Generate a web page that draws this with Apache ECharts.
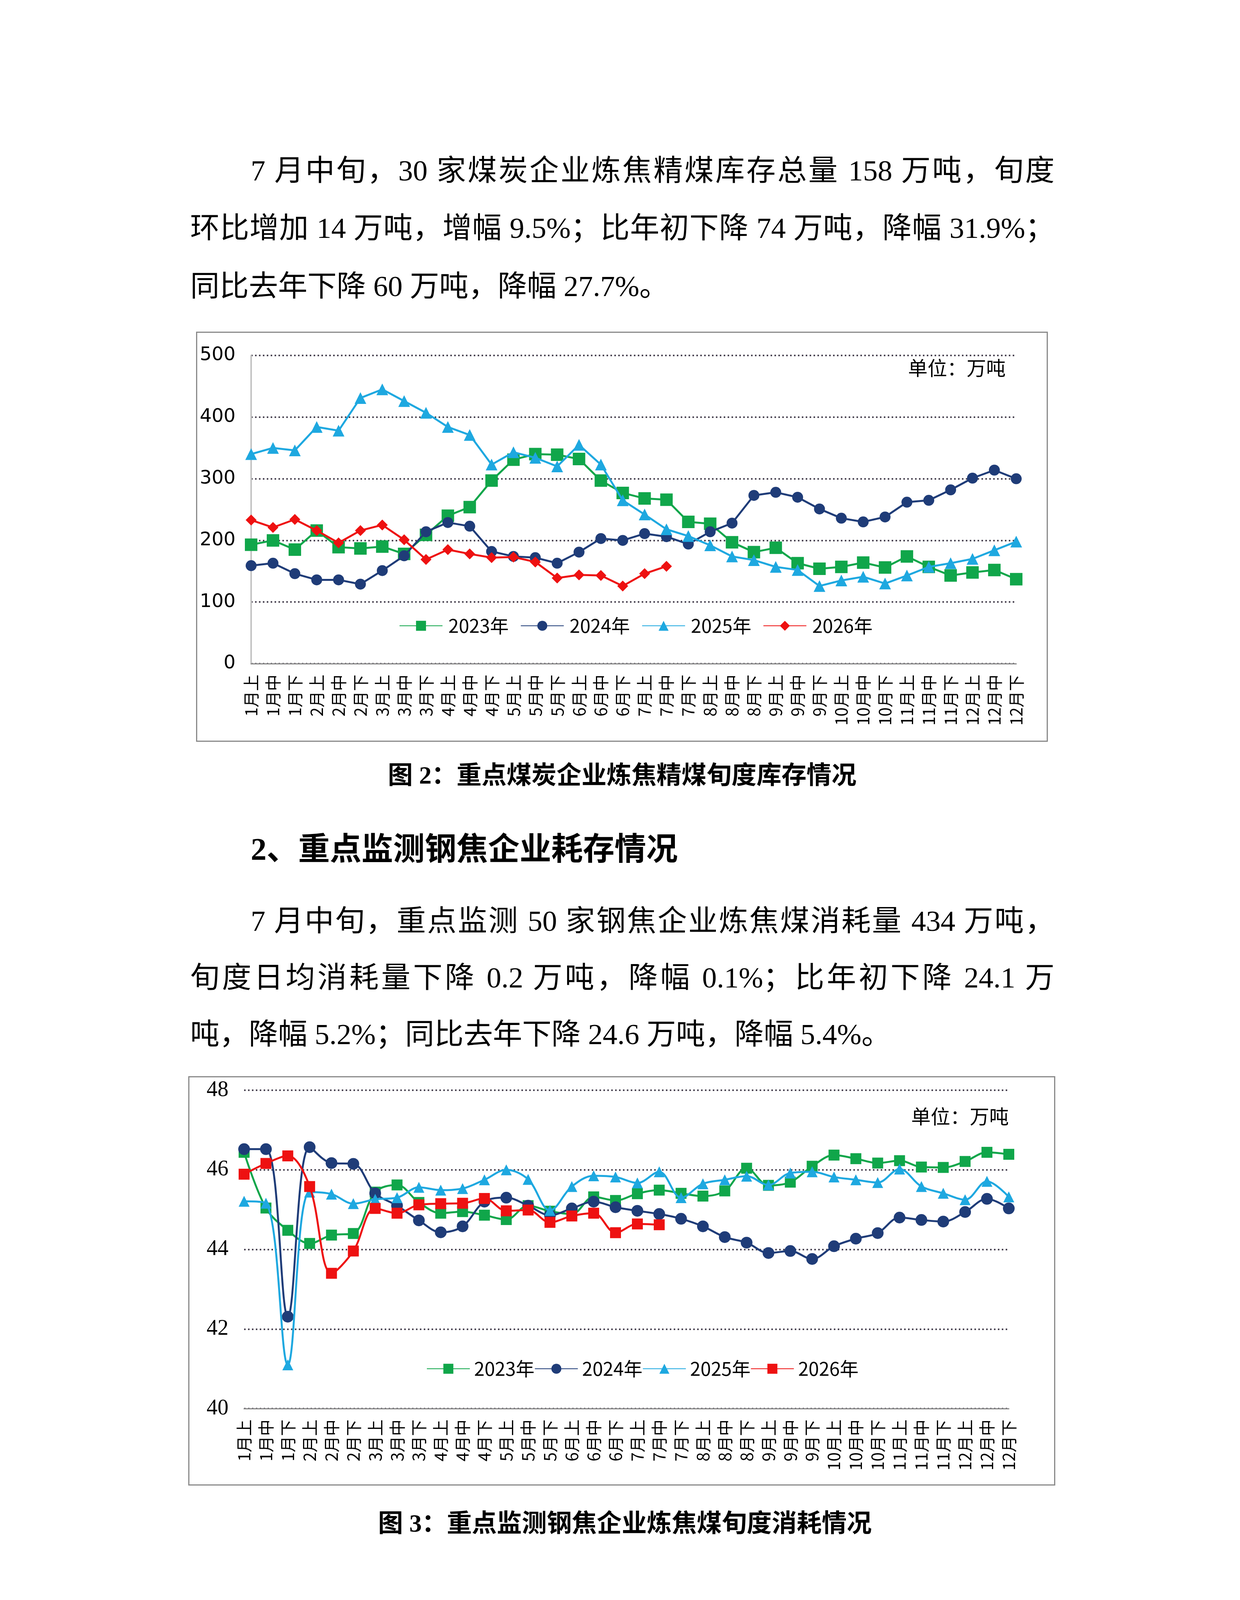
<!DOCTYPE html>
<html>
<head>
<meta charset="utf-8">
<script src="https://cdn.jsdelivr.net/npm/echarts/dist/echarts.min.js"></script>
<style>
  html, body { margin: 0; padding: 0; background: #fff; }
  #page { position: relative; width: 3175px; height: 4490px; background: #fff; overflow: hidden; }
  .ln { position: absolute; height: 100px; line-height: 100px; font-size: 75px; color: #000; white-space: nowrap;
        font-family: "Liberation Serif", "Noto Sans CJK SC", serif; }
  .full { text-align: justify; text-align-last: justify; white-space: normal; }
  .cap { position: absolute; height: 80px; line-height: 80px; font-size: 64px; font-weight: bold; color: #000;
         font-family: "Liberation Serif", "Noto Sans CJK SC", serif; white-space: nowrap; transform: translateX(-50%); }
  .head { font-weight: bold; font-size: 81px; }
  .box { position: absolute; border: 3px solid #8a8a8a; background: #fff; }
  .box > div { width: 100%; height: 100%; }
</style>
</head>
<body>
<div id="page">
  <div class="ln full" style="left:642px; top:387px; width:2058px;">7 月中旬，30 家煤炭企业炼焦精煤库存总量 158 万吨，旬度</div>
  <div class="ln full" style="left:487px; top:534px; width:2213px;">环比增加 14 万吨，增幅 9.5%；比年初下降 74 万吨，降幅 31.9%；</div>
  <div class="ln" style="left:487px; top:683px;">同比去年下降 60 万吨，降幅 27.7%。</div>

  <div class="box" style="left:502px; top:849px; width:2175px; height:1044px;"><div id="chart1"></div></div>
  <div class="cap" style="left:1593px; top:1945px;">图 2：重点煤炭企业炼焦精煤旬度库存情况</div>

  <div class="ln head" style="left:642px; top:2124px;">2、重点监测钢焦企业耗存情况</div>
  <div class="ln full" style="left:642px; top:2308px; width:2058px;">7 月中旬，重点监测 50 家钢焦企业炼焦煤消耗量 434 万吨，</div>
  <div class="ln full" style="left:487px; top:2453px; width:2213px;">旬度日均消耗量下降 0.2 万吨，降幅 0.1%；比年初下降 24.1 万</div>
  <div class="ln" style="left:487px; top:2598px;">吨，降幅 5.2%；同比去年下降 24.6 万吨，降幅 5.4%。</div>

  <div class="box" style="left:482px; top:2755px; width:2214px; height:1042px;"><div id="chart2"></div></div>
  <div class="cap" style="left:1600px; top:3860px;">图 3：重点监测钢焦企业炼焦煤旬度消耗情况</div>
</div>
<script>
// 旬度分类
var categories = ['1月上','1月中','1月下','2月上','2月中','2月下','3月上','3月中','3月下',
  '4月上','4月中','4月下','5月上','5月中','5月下','6月上','6月中','6月下',
  '7月上','7月中','7月下','8月上','8月中','8月下','9月上','9月中','9月下',
  '10月上','10月中','10月下','11月上','11月中','11月下','12月上','12月中','12月下'];
var years = ['2023年', '2024年', '2025年', '2026年'];
var colors = ['#10a64a', '#1f3c78', '#1ea8e0', '#ee1111'];

// 图2 炼焦精煤库存（万吨）
var stock2023 = [193,200,185,216,189,187,190,178,209,240,254,297,331,340,339,332,297,277,
  268,266,230,227,197,181,188,163,154,157,164,156,174,157,143,148,152,137];
var stock2024 = [159,163,146,136,136,129,151,175,214,229,223,182,174,172,163,181,203,200,
  211,206,194,214,228,273,278,270,251,236,230,238,262,265,282,301,314,300];
var stock2025 = [340,350,346,384,378,431,445,426,407,384,371,323,343,334,320,355,323,265,
  242,218,207,192,174,168,157,152,126,135,141,130,143,157,163,170,184,198];
var stock2026 = [233,221,234,216,196,216,225,201,169,185,178,172,173,165,139,144,143,126,
  146,158];
var stockTicks = { min: 0, max: 500, interval: 100 };

// 图3 炼焦煤消耗（万吨）
var use2023 = [46.44,45.04,44.48,44.15,44.36,44.40,45.44,45.62,45.18,44.91,44.95,44.86,
  44.75,45.10,44.96,44.89,45.32,45.23,45.40,45.49,45.41,45.34,45.47,46.04,45.61,45.69,
  46.09,46.37,46.28,46.17,46.23,46.07,46.06,46.21,46.44,46.39];
var use2024 = [46.52,46.52,42.31,46.57,46.17,46.15,45.41,45.10,44.73,44.43,44.58,45.20,
  45.30,45.10,44.86,45.03,45.20,45.06,44.97,44.89,44.77,44.58,44.31,44.17,43.91,43.96,
  43.76,44.08,44.27,44.41,44.80,44.74,44.70,44.94,45.27,45.03];
var use2025 = [45.21,45.16,41.10,45.44,45.39,45.15,45.26,45.30,45.56,45.49,45.53,45.75,
  46.00,45.76,44.98,45.58,45.85,45.82,45.67,45.95,45.30,45.65,45.75,45.84,45.62,45.92,
  45.95,45.82,45.75,45.68,46.02,45.58,45.41,45.25,45.71,45.32];
var use2026 = [45.89,46.16,46.35,45.58,43.40,43.96,45.03,44.91,45.12,45.15,45.16,45.28,
  44.97,44.99,44.68,44.84,44.91,44.42,44.64,44.62];
var useTicks = { min: 40, max: 48, interval: 2 };

var cjk = '"Noto Sans CJK SC", sans-serif';

function makeSeries(dataList, symbols, sizes, smooth) {
  return dataList.map(function (d, i) {
    return {
      name: years[i],
      type: 'line',
      data: d,
      smooth: smooth,
      symbol: symbols[i],
      symbolSize: sizes[i],
      showAllSymbol: true,
      lineStyle: { color: colors[i], width: 5 },
      itemStyle: { color: colors[i] },
      z: 2 + i
    };
  });
}

function baseOption(o) {
  return {
    animation: false,
    backgroundColor: '#fff',
    title: {
      text: '单位：万吨',
      left: o.unitLeft, top: o.unitTop,
      textStyle: { fontFamily: cjk, fontSize: 50, fontWeight: 'normal', color: '#000' }
    },
    legend: {
      data: years,
      left: o.legendLeft, top: o.legendTop,
      itemWidth: 110, itemHeight: 32, itemGap: o.legendGap,
      padding: 0,
      textStyle: { fontFamily: cjk, fontSize: 48, color: '#000', padding: [0, o.textPad, 0, o.textPad] }
    },
    grid: o.grid,
    xAxis: {
      type: 'category',
      data: categories,
      boundaryGap: false,
      axisLine: { lineStyle: { color: '#8c8c8c', width: 3 } },
      axisTick: { show: false },
      axisLabel: { interval: 0, rotate: 90, fontFamily: cjk, fontSize: 42, color: '#000', margin: 28 }
    },
    yAxis: {
      type: 'value',
      min: o.ticks.min, max: o.ticks.max, interval: o.ticks.interval,
      axisLine: { show: o.showYLine, lineStyle: { color: '#c4c4c4', width: 4 } },
      axisTick: { show: false },
      axisLabel: { fontFamily: o.yFont, fontSize: o.yFontSize, color: '#000', margin: 40 },
      splitLine: { lineStyle: { color: '#4a4452', type: [4, 6], width: 4 } }
    }
  };
}

var chart1 = echarts.init(document.getElementById('chart1'));
var opt1 = baseOption({
  unitLeft: 1815, unitTop: 60,
  legendLeft: 517, legendTop: 726, legendGap: 30, textPad: 10,
  grid: { left: 138, right: 78, top: 58, bottom: 197 },
  ticks: stockTicks, showYLine: true, yFont: '"DejaVu Sans", sans-serif', yFontSize: 48
});
opt1.series = makeSeries([stock2023, stock2024, stock2025, stock2026],
  ['rect', 'circle', 'triangle', 'diamond'], [32, 28, 30, 28], false);
chart1.setOption(opt1);

var chart2 = echarts.init(document.getElementById('chart2'));
var opt2 = baseOption({
  unitLeft: 1843, unitTop: 70,
  legendLeft: 607, legendTop: 722, legendGap: 0, textPad: 6,
  grid: { left: 140, right: 116, top: 33, bottom: 194 },
  ticks: useTicks, showYLine: false, yFont: '"Liberation Serif", serif', yFontSize: 56
});
opt2.series = makeSeries([use2023, use2024, use2025, use2026],
  ['rect', 'circle', 'triangle', 'rect'], [28, 30, 28, 28], 0.35);
chart2.setOption(opt2);
</script>
</body>
</html>
